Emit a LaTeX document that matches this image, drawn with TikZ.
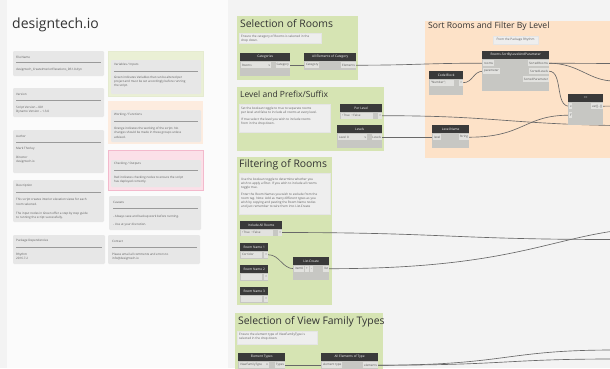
\documentclass[tikz,border=0pt]{standalone}
\usepackage{fontspec}
\setmainfont{Open Sans}
\usetikzlibrary{positioning}
\definecolor{canvas}{HTML}{F3F3F3}
\definecolor{panel}{HTML}{FBFBFB}
\definecolor{cardgray}{HTML}{E7E7E7}
\definecolor{rulegray}{HTML}{9A9A9A}
\definecolor{inktext}{HTML}{5A5A5A}
\definecolor{titleink}{HTML}{333333}
\definecolor{grpgreen}{HTML}{D6E4B3}
\definecolor{grppeach}{HTML}{FDE2C8}
\definecolor{leggreen}{HTML}{EAF0D5}
\definecolor{legorange}{HTML}{FDECDF}
\definecolor{legpink}{HTML}{FBE0E8}
\definecolor{pinkline}{HTML}{F3B9CC}
\definecolor{notegray}{HTML}{EEEEEE}
\definecolor{headgray}{HTML}{3A3A3A}
\definecolor{bodygray}{HTML}{C7C7C3}
\definecolor{portgray}{HTML}{E2E2DF}
\definecolor{portink}{HTML}{555555}
\definecolor{wiregray}{HTML}{686868}
\newcommand{\cardfont}{\fontsize{3}{4.4}\selectfont}
\newcommand{\notefont}{\fontsize{3.1}{4}\selectfont}
\newcommand{\headfont}{\fontsize{3.2}{3.8}\selectfont}
\newcommand{\portfont}{\fontsize{3}{3.6}\selectfont}
\pgfdeclarelayer{back}
\pgfdeclarelayer{wires}
\pgfsetlayers{back,wires,main}
\begin{document}
\begin{tikzpicture}[x=1pt, y=-1pt,
    card/.style={fill=cardgray, rounded corners=1.2pt},
    cardlbl/.style={anchor=west, inner sep=0pt, font=\cardfont, text=inktext},
    cardtxt/.style={anchor=north west, inner sep=0pt, font=\cardfont, text=inktext, align=left},
    cardrule/.style={draw=rulegray, line width=0.45pt},
    grptitle/.style={anchor=base west, inner sep=0pt, text=titleink},
    notebox/.style={fill=notegray, draw=black!10, line width=0.3pt},
    notetxt/.style={anchor=north west, inner sep=0pt, font=\notefont, text=inktext, align=left},
    dhead/.style={fill=headgray, text=white, font=\headfont, inner sep=0pt, minimum height=7.5pt, anchor=north west},
    port/.style={fill=portgray, text=portink, font=\portfont, inner xsep=0.8pt, inner ysep=0pt, minimum height=6pt, anchor=north west},
    wire/.style={draw=wiregray, line width=0.65pt}]
\useasboundingbox (0,0) rectangle (610,368);

\begin{pgfonlayer}{back}
  \fill[canvas] (0,0) rectangle (610,368);
  \fill[panel] (7,0) rectangle (228,368);
  % legend groups
  \fill[leggreen, draw=leggreen!85!black!15!leggreen] (108,51) rectangle (203,96);
  \fill[legorange] (108,101) rectangle (203,144);
  \fill[legpink, draw=pinkline, line width=0.9pt] (108,150) rectangle (203,190);
  % dynamo groups
  \fill[grpgreen] (237,16) rectangle (358,80);
  \fill[grpgreen] (237,87) rectangle (384,151);
  \fill[grpgreen] (237,157) rectangle (332,305);
  \fill[grpgreen] (235,313) rectangle (383,372);
  \fill[grppeach] (425,21) rectangle (614,158);
\end{pgfonlayer}

\node[anchor=base west, inner sep=0pt, font=\fontsize{14}{16}\selectfont, text=titleink] (brand) at (12,28.5) {designtech.io};

% info cards, left column
\fill[card] (13,51) rectangle (104,76);
\node[cardlbl] (fn-lbl) at (16,57) {File Name};
\draw[cardrule] (16,62.5) -- (101,62.5);
\node[cardlbl] (fn-txt) at (16,69.5) {designtech\_CreateInteriorElevations\_DS1.0.dyn};

\fill[card] (13,88) rectangle (104,117);
\node[cardlbl] (ver-lbl) at (16,94) {Version};
\draw[cardrule] (16,100) -- (101,100);
\node[cardtxt] (ver-txt) at (16,105.7) {Script Version -- 001\\Dynamo Version -- 1.3.0};

\fill[card] (13,130) rectangle (104,173);
\node[cardlbl] (au-lbl) at (16,136) {Author};
\draw[cardrule] (16,142) -- (101,142);
\node[cardlbl] (au-name) at (16,149) {Mark Thorley};
\node[cardtxt] (au-txt) at (16,155.7) {Director\\designtech.io};

\fill[card] (13,180) rectangle (104,222);
\node[cardlbl] (desc-lbl) at (16,186) {Description};
\draw[cardrule] (16,192) -- (101,192);
\node[cardtxt] (desc-txt) at (16,198.2) {This script creates interior elevation views for each\\room selected.\\[4.6pt]The input nodes in Green offer a step by step guide\\to running the script successfully.};

\fill[card] (13,235) rectangle (105,264);
\node[cardlbl] (pkg-lbl) at (16,241) {Package Dependencies};
\draw[cardrule] (16,247) -- (102,247);
\node[cardtxt] (pkg-txt) at (16,252.7) {Rhythm\\2016.7.2};

% info cards, middle column
\fill[card] (111,60) rectangle (201,94);
\node[cardlbl] (var-lbl) at (114,65) {Variables / Inputs};
\draw[cardrule] (114,71.5) -- (198,71.5);
\node[cardtxt] (var-txt) at (114,75.7) {Green indicates Variables that can be altered per\\project and must be set accordingly before running\\the script.};

\fill[card] (111,110) rectangle (201,142);
\node[cardlbl] (work-lbl) at (114,115) {Working / Functions};
\draw[cardrule] (114,121) -- (198,121);
\node[cardtxt] (work-txt) at (114,126.7) {Orange indicates the working of the script. No\\changes should be made in these groups unless\\advised.};

\fill[card] (111,160) rectangle (201,187);
\node[cardlbl] (chk-lbl) at (114,164) {Checking / Outputs};
\draw[cardrule] (114,170) -- (198,170);
\node[cardtxt] (chk-txt) at (114,175.7) {Red indicates checking nodes to ensure the script\\has deployed correctly.};

\fill[card] (109,196) rectangle (201,230);
\node[cardlbl] (cav-lbl) at (113,202) {Caveats};
\draw[cardrule] (113,208) -- (198,208);
\node[cardtxt] (cav-txt) at (113,214.7) {- Always save and backup work before running.\\[3.6pt]- Use at your discretion.};

\fill[card] (108,235) rectangle (200,264);
\node[cardlbl] (con-lbl) at (112,241) {Contact};
\draw[cardrule] (112,247) -- (197,247);
\node[cardtxt] (con-txt) at (112,252.7) {Please email all comments and errors to\\info@designtech.io};

% group titles and notes
\node[grptitle, font=\fontsize{10.4}{12}\selectfont] (t-rooms) at (240,27) {Selection of Rooms};
\fill[notebox] (239,33) rectangle (321,43);
\node[notetxt] (n-rooms) at (241,35) {Ensure the category of Rooms is selected in the\\drop down.};

\node[grptitle, font=\fontsize{8.5}{10}\selectfont] (t-level) at (240,97) {Level and Prefix/Suffix};
\fill[notebox] (239,104) rectangle (330,132);
\node[notetxt] (n-level) at (241,106.7) {Set the boolean toggle to true to separate rooms\\per level and false to include all rooms at every level.\\[3.6pt]If true select the level you wish to include rooms\\from in the drop down.};

\node[grptitle, font=\fontsize{10.4}{12}\selectfont] (t-filter) at (239,167) {Filtering of Rooms};
\fill[notebox] (239,173) rectangle (330,214);
\node[notetxt] (n-filter) at (241,177.7) {Use the boolean toggle to determine whether you\\wish to apply a filter. If you wish to include all rooms\\toggle true.\\[3.5pt]Enter the Room Names you wish to exclude from the\\room tag. Note: Add as many different types as you\\wish by copying and pasting the Room Name nodes\\and just remember to wire them into List.Create};

\node[grptitle, font=\fontsize{10.4}{12}\selectfont] (t-views) at (238,324.5) {Selection of View Family Types};
\fill[notebox] (237,331) rectangle (317,344);
\node[notetxt] (n-views) at (239,333) {Ensure the element type of ViewFamilyType is\\selected in the drop down.};

\node[grptitle, font=\fontsize{8.6}{10}\selectfont] (t-sort) at (428,28.5) {Sort Rooms and Filter By Level};
\fill[notebox] (493,36) rectangle (538,44);
\node[notetxt, anchor=center] (n-sort) at (515.5,40) {From the Package Rhythm};

% dynamo nodes
\node[dhead, minimum width=50] (cat) at (240,53) {Categories};
\fill[bodygray] (240,60.5) rectangle (290,76);
\node[port, text width=28] (cat-pick) at (241,62) {Rooms\hfill v};
\node[port, anchor=north east] (cat-out) at (290,62) {Category};

\node[dhead, minimum width=52] (aec) at (304,53) {All Elements of Category};
\fill[bodygray] (304,60.5) rectangle (356,70);
\node[port] (aec-in) at (305,62) {Category};
\node[port, anchor=north east] (aec-out) at (356,62) {Elements};

\node[dhead, minimum width=42] (perlvl) at (340,104) {Per Level};
\fill[bodygray] (340,111.5) rectangle (382,119);
\node[port, text width=30] (perlvl-pick) at (341,112.5) {\textbullet\,True \;\textbullet\,False};
\node[port, anchor=north east] (perlvl-out) at (382,112.5) {>};

\node[dhead, minimum width=45] (lvls) at (337,125) {Levels};
\fill[bodygray] (337,132.5) rectangle (382,148);
\node[port, text width=27] (lvls-pick) at (338,134) {Level 0\hfill v};
\node[port, anchor=north east] (lvls-out) at (382,134) {Levels};

\node[dhead, minimum width=42] (incl) at (240,221) {Include All Rooms};
\fill[bodygray] (240,228.5) rectangle (282,236);
\node[port, text width=30] (incl-pick) at (241,229.3) {\textbullet\,True \;\textbullet\,False};
\node[port, anchor=north east] (incl-out) at (282,229.3) {>};

\foreach \k/\y/\val in {1/243/Corridor, 2/265/{}, 3/287/{}} {
  \node[dhead, minimum width=28] (room\k) at (240,\y) {Room Name \k};
  \fill[bodygray] (240,\y+7.5) rectangle (268,\y+15.5);
  \node[port, text width=19] (room\k-val) at (241,\y+8.5) {\val};
  \node[port, anchor=north east] (room\k-out) at (268,\y+8.5) {>};
}

\node[dhead, minimum width=36] (lc) at (293,257) {List.Create};
\fill[bodygray] (293,264.5) rectangle (329,280);
\node[port] (lc-in) at (294,265.5) {item0};
\node[port] (lc-add) at (305,265.5) {+};
\node[port] (lc-del) at (310,265.5) {-};
\node[port, anchor=north east] (lc-out) at (329,265.5) {list};

\node[dhead, minimum width=47] (etyp) at (238,353) {Element Types};
\fill[bodygray] (238,360.5) rectangle (285,370);
\node[port, text width=28] (etyp-pick) at (239,362) {ViewFamilyType\hfill v};
\node[port, anchor=north east] (etyp-out) at (285,362) {Types};

\node[dhead, minimum width=57] (aet) at (321,353) {All Elements of Type};
\fill[bodygray] (321,360.5) rectangle (378,370);
\node[port] (aet-in) at (322,362) {element type};
\node[port, anchor=north east] (aet-out) at (378,362) {elements};

\node[dhead, minimum width=34] (cb) at (429,71) {Code Block};
\fill[bodygray] (429,78.5) rectangle (463,95);
\node[port, text width=22] (cb-code) at (430,79.5) {"Number";};
\node[port, anchor=north east] (cb-out) at (463,79.5) {>};

\node[dhead, minimum width=67] (sort) at (482,51) {Rooms.SortByLevelAndParameter};
\fill[bodygray] (482,58.5) rectangle (549,91);
\node[port] (sort-rooms) at (483,60) {rooms};
\node[port] (sort-param) at (483,68) {parameter};
\node[port, anchor=north east] (sort-r) at (549,60) {SortedRooms};
\node[port, anchor=north east] (sort-l) at (549,68) {SortedLevels};
\node[port, anchor=north east] (sort-p) at (549,76) {SortedParameter};

\node[dhead, minimum width=37] (lname) at (432,125) {Level.Name};
\fill[bodygray] (432,132.5) rectangle (469,148);
\node[port] (lname-in) at (433,134) {level};
\node[port, anchor=north east] (lname-out) at (469,134) {String};

\node[dhead, minimum width=35] (eq) at (568,94) {==};
\fill[bodygray] (568,101.5) rectangle (603,125);
\node[port] (eq-x) at (569,103) {x};
\node[port] (eq-y) at (569,112) {y};
\node[port, anchor=north east] (eq-out) at (603,103) {var[]..[]};

% loose ends at the right border
\coordinate (edge-a) at (614,63.5);
\coordinate (edge-b) at (614,81);
\coordinate (edge-c) at (614,125.5);
\coordinate (edge-d) at (614,106);
\coordinate (edge-e) at (614,239.5);
\coordinate (edge-f) at (614,231);
\coordinate (edge-g) at (614,350);
\coordinate (edge-h) at (614,359);

% wires
\begin{pgfonlayer}{wires}
  \draw[wire] (cat-out.east) -- (aec-in.west);
  \draw[wire] (aec-out.east) .. controls +(60,0) and +(-60,0) .. (sort-rooms.west);
  \draw[wire] (cb-out.east) .. controls +(10,0) and +(-10,0) .. (sort-param.west);
  \draw[wire] (sort-r.east) -- (edge-a);
  \draw[wire] (sort-r.east) .. controls +(30,0) and +(-25,0) .. (edge-b);
  \draw[wire] (sort-l.east) .. controls +(14,0) and +(-14,0) .. (eq-x.west);
  \draw[wire] (lvls-out.east) -- (lname-in.west);
  \draw[wire] (lname-out.east) .. controls +(55,0) and +(-45,0) .. (eq-y.west);
  \draw[wire] (perlvl-out.east) .. controls +(110,0) and +(-110,-2) .. (edge-c);
  \draw[wire] (eq-out.east) -- (edge-d);
  \draw[wire] (incl-out.east) .. controls +(160,0) and +(-160,0) .. (edge-e);
  \draw[wire] (lc-out.east) .. controls +(170,0) and +(-70,10) .. (edge-f);
  \draw[wire] (room1-out.east) .. controls +(12,0) and +(-12,0) .. (lc-in.west);
  \draw[wire] (etyp-out.east) -- (aet-in.west);
  \draw[wire] (aet-out.east) .. controls +(130,0) and +(-110,0) .. (edge-g);
  \draw[wire] (aet-out.east) .. controls +(130,0) and +(-110,0) .. (edge-h);
\end{pgfonlayer}
\end{tikzpicture}
\end{document}
